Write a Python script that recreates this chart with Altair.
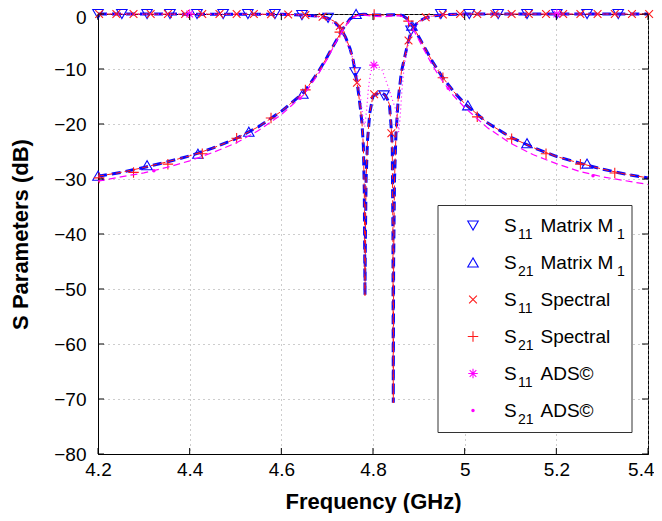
import altair as alt
import pandas as pd

FONT = "Liberation Sans"
BLUE = "#0808ff"
RED = "#ff1a1a"
MAG = "#ff00ff"

# ---------------- data ----------------
x_ticks = [4.2, 4.4, 4.6, 4.8, 5.0, 5.2, 5.4]
y_ticks = [-80, -70, -60, -50, -40, -30, -20, -10, 0]

# S21, coupling matrix M1 (blue)
m1_s21_freq = [4.20, 4.25, 4.30, 4.35, 4.40, 4.45, 4.50, 4.55, 4.60, 4.65,
               4.68, 4.70, 4.72, 4.735, 4.75, 4.765, 4.78, 4.80, 4.82, 4.84,
               4.855, 4.865, 4.875, 4.885, 4.895, 4.91, 4.93, 4.95, 4.975, 5.00,
               5.05, 5.10, 5.15, 5.20, 5.25, 5.30, 5.35, 5.40]
m1_s21_db = [-29.5, -28.8, -27.9, -26.9, -25.8, -24.4, -22.7, -20.5, -17.7, -14.2,
             -10.6, -7.8, -4.8, -2.6, -0.9, -0.15, -0.05, -0.15, -0.2, -0.15,
             -0.1, -0.3, -0.9, -2.0, -3.4, -5.7, -8.7, -11.3, -14.0, -16.3,
             -19.8, -22.4, -24.3, -25.9, -27.1, -28.2, -29.1, -29.8]
m1_s21_mk_freq = [4.20, 4.307, 4.418, 4.529, 4.647, 4.763, 4.885, 5.007, 5.136, 5.267]
m1_s21_mk_db = [-29.4, -27.5, -25.4, -21.4, -14.5, 0.0, -2.1, -16.6, -23.5, -27.2]

# S11, coupling matrix M1 (blue)
m1_s11_freq = [4.20, 4.60, 4.65, 4.68, 4.70, 4.715, 4.73, 4.74, 4.75, 4.757,
               4.761, 4.767, 4.773, 4.776, 4.779, 4.781, 4.7825, 4.7835, 4.785, 4.788,
               4.793, 4.80, 4.81, 4.818, 4.826, 4.832, 4.836, 4.840, 4.842, 4.8435,
               4.8443, 4.845, 4.847, 4.850, 4.855, 4.862, 4.870, 4.877, 4.883, 4.89,
               4.90, 4.915, 4.935, 4.96, 5.00, 5.40]
m1_s11_db = [0.0, -0.05, -0.2, -0.4, -0.7, -1.3, -2.7, -4.2, -6.3, -8.5,
             -10.6, -13.5, -17.5, -19.9, -24.0, -32.0, -51.2, -40.0, -30.0, -23.0,
             -18.0, -14.9, -14.5, -14.3, -14.7, -15.6, -16.5, -21.0, -24.0, -40.0,
             -70.7, -45.0, -30.0, -22.0, -15.5, -10.5, -7.5, -5.0, -3.2, -2.2,
             -1.3, -0.7, -0.3, -0.1, 0.0, 0.0]
m1_s11_mk_freq = [4.20, 4.252, 4.307, 4.357, 4.416, 4.473, 4.527, 4.586, 4.645, 4.702,
                  4.761, 4.824, 4.883, 4.948, 5.01, 5.073, 5.136, 5.201, 5.267, 5.335]
m1_s11_mk_db = [0.0, 0.0, 0.0, 0.0, 0.0, 0.0, 0.0, 0.0, -0.2, -0.7,
                -10.6, -14.8, -3.0, 0.0, 0.0, 0.0, 0.0, 0.0, 0.0, 0.0]

# Spectral method (red): lines coincide with the M1 curves
spec_s21_line_freq = m1_s21_freq
spec_s21_line_db = m1_s21_db
spec_s11_line_freq = m1_s11_freq
spec_s11_line_db = m1_s11_db
spec_s11_mk_freq = [4.2025, 4.24, 4.2775, 4.315, 4.3525, 4.39, 4.4275, 4.465, 4.5025, 4.54,
                    4.5775, 4.615, 4.6525, 4.69, 4.7275, 4.765, 4.8025, 4.84, 4.8775, 4.915,
                    4.9525, 4.99, 5.0275, 5.065, 5.1025, 5.14, 5.1775, 5.215, 5.2525, 5.29,
                    5.3275, 5.365, 5.4025]
spec_s11_mk_db = [0.0, 0.0, 0.0, 0.0, 0.0, 0.0, 0.0, 0.0, 0.0, 0.0,
                  -0.05, -0.1, -0.2, -0.5, -2.2, -12.5, -14.6, -21.7, -4.8, -0.6,
                  -0.1, 0.0, 0.0, 0.0, 0.0, 0.0, 0.0, 0.0, 0.0, 0.0,
                  0.0, 0.0, 0.0]
spec_s21_mk_freq = [4.2025, 4.2775, 4.3525, 4.4275, 4.5025, 4.5775, 4.6525, 4.7275,
                    4.8025, 4.8775, 4.9525, 5.0275, 5.1025, 5.1775, 5.2525, 5.3275]
spec_s21_mk_db = [-29.8, -28.8, -27.3, -25.4, -22.6, -18.9, -13.8, -3.3,
                  -0.1, -1.3, -11.6, -18.7, -22.7, -25.4, -27.3, -28.9]

# ADS simulation (magenta)
ads_s21_freq = m1_s21_freq
ads_s21_db = [-30.4, -29.6, -28.9, -27.9, -26.7, -25.2, -23.5, -21.2, -18.3, -14.6,
              -11.0, -8.2, -5.0, -2.8, -1.1, -0.3, -0.2, -0.4, -0.5, -0.4,
              -0.3, -0.5, -1.2, -2.4, -3.9, -6.3, -9.4, -12.0, -14.8, -17.0,
              -20.7, -23.5, -25.6, -27.2, -28.6, -29.6, -30.3, -31.0]
ads_s21_mk_freq = [4.322, 4.641, 4.964, 5.28]
ads_s21_mk_db = [-28.5, -15.3, -13.5, -29.4]

ads_s11_freq = [4.20, 4.60, 4.65, 4.70, 4.73, 4.75, 4.765, 4.772, 4.778, 4.782,
                4.786, 4.790, 4.795, 4.802, 4.81, 4.82, 4.83, 4.84, 4.85, 4.856,
                4.859, 4.863, 4.868, 4.875, 4.882, 4.89, 4.905, 4.93, 4.96, 5.00, 5.40]
ads_s11_db = [0.0, -0.05, -0.2, -0.8, -2.9, -6.6, -10.5, -14.5, -19.0, -20.5,
              -17.5, -13.5, -10.5, -9.3, -9.4, -10.2, -12.5, -15.0, -17.5, -21.5,
              -19.0, -14.0, -9.5, -6.2, -4.0, -2.5, -1.1, -0.3, -0.1, 0.0, 0.0]
ads_s11_mk_freq = [4.40, 4.802, 5.201]
ads_s11_mk_db = [0.0, -9.3, 0.0]

legend_subs = ["11", "21", "11", "21", "11", "21"]
legend_texts = ["Matrix M", "Matrix M", "Spectral", "Spectral", "ADS\u00a9", "ADS\u00a9"]
legend_tail = ["1", "1", "", "", "", ""]

# ---------------- chart ----------------
W, H = 550, 440
X_PATH = "M-1,-1L1,1M-1,1L1,-1"
PLUS_PATH = "M-1,0L1,0M0,-1L0,1"
STAR_PATH = "M-1,0L1,0M0,-1L0,1M-0.7,-0.7L0.7,0.7M-0.7,0.7L0.7,-0.7"

xs = alt.Scale(domain=[4.2, 5.4], nice=False, zero=False)
ys = alt.Scale(domain=[-80, 0], nice=False, zero=False)

common_axis = dict(grid=True, ticks=False, domain=True, domainColor="black", domainWidth=1,
                   labelFont=FONT, labelFontSize=19, labelColor="black",
                   titleFont=FONT, titleFontSize=22, titleFontWeight="bold", titleColor="black",
                   gridColor="#9a9a9a", gridDash=[1, 4], gridWidth=1, labelFlush=False)
xaxis = alt.Axis(values=x_ticks, format="~g", title="Frequency (GHz)",
                 labelPadding=6, titlePadding=12,
                 labelAlign={"expr": "datum.value >= 5.39 ? 'right' : 'center'"},
                 labelOffset={"expr": "datum.value >= 5.39 ? 6 : 0"},
                 **common_axis)
yaxis = alt.Axis(values=y_ticks, format="d", title="S Parameters (dB)",
                 labelPadding=12, titlePadding=21,
                 labelOffset={"expr": "datum.value >= 0 ? 3 : 0"},
                 **common_axis)


def X():
    return alt.X("f:Q", scale=xs, axis=xaxis)


def Y():
    return alt.Y("db:Q", scale=ys, axis=yaxis)


def frame(f, d):
    return pd.DataFrame({"f": f, "db": d})


def line(f, d, color, w, dash):
    return alt.Chart(frame(f, d)).mark_line(
        color=color, strokeWidth=w, strokeDash=dash, clip=False
    ).encode(x=X(), y=Y())


def pts(f, d, shape, color, size, filled=False):
    return alt.Chart(frame(f, d)).mark_point(
        shape=shape, color=color, size=size, filled=filled, opacity=1,
        strokeWidth=1.1, clip=False
    ).encode(x=X(), y=Y())


layers = [
    line(m1_s11_freq, m1_s11_db, BLUE, 3, [9, 5]),
    pts(m1_s11_mk_freq, m1_s11_mk_db, "triangle-down", BLUE, 110),
    line(m1_s21_freq, m1_s21_db, BLUE, 3, [9, 5]),
    pts(m1_s21_mk_freq, m1_s21_mk_db, "triangle-up", BLUE, 110),
    line(spec_s11_line_freq, spec_s11_line_db, RED, 1, [6, 3]),
    pts(spec_s11_mk_freq, spec_s11_mk_db, X_PATH, RED, 60),
    line(spec_s21_line_freq, spec_s21_line_db, RED, 1, [6, 3]),
    pts(spec_s21_mk_freq, spec_s21_mk_db, PLUS_PATH, RED, 110),
    line(ads_s11_freq, ads_s11_db, MAG, 1.2, [1, 3]),
    pts(ads_s11_mk_freq, ads_s11_mk_db, STAR_PATH, MAG, 90),
    line(ads_s21_freq, ads_s21_db, MAG, 1.2, [7, 4]),
    pts(ads_s21_mk_freq, ads_s21_mk_db, "circle", MAG, 12, filled=True),
]

# inward tick marks on all four sides
yt = pd.DataFrame({"db": y_ticks})
xt = pd.DataFrame({"f": x_ticks})
layers += [
    alt.Chart(yt).mark_rule(color="black").encode(y=Y(), x=alt.value(0), x2=alt.value(6)),
    alt.Chart(yt).mark_rule(color="black").encode(y=Y(), x=alt.value(W), x2=alt.value(W - 6)),
    alt.Chart(xt).mark_rule(color="black").encode(x=X(), y=alt.value(H), y2=alt.value(H - 6)),
    alt.Chart(xt).mark_rule(color="black").encode(x=X(), y=alt.value(0), y2=alt.value(6)),
]

# legend box
dummy = pd.DataFrame({"a": [0]})
layers.append(
    alt.Chart(dummy).mark_rect(fill="white", stroke="#333333", strokeWidth=1).encode(
        x=alt.value(340), x2=alt.value(534), y=alt.value(191.5), y2=alt.value(418.5))
)

row_y = [211.5, 248.5, 285.5, 322.5, 359.5, 396.5]
row_sym = [("triangle-down", BLUE, 110, False), ("triangle-up", BLUE, 110, False),
           (X_PATH, RED, 60, False), (PLUS_PATH, RED, 110, False),
           (STAR_PATH, MAG, 90, False), ("circle", MAG, 12, True)]


def txt(s, x, y, size):
    return alt.Chart(dummy).mark_text(
        text=s, align="left", baseline="alphabetic", font=FONT, fontSize=size, color="black"
    ).encode(x=alt.value(x), y=alt.value(y))


for i, cy in enumerate(row_y):
    shp, col, sz, fl = row_sym[i]
    layers.append(alt.Chart(dummy).mark_point(
        shape=shp, color=col, size=sz, filled=fl, opacity=1, strokeWidth=1.1
    ).encode(x=alt.value(375), y=alt.value(cy)))
    layers.append(txt("S", 406, cy + 6.7, 19))
    layers.append(txt(legend_subs[i], 420, cy + 13.2, 14))
    layers.append(txt(legend_texts[i], 442.5, cy + 6.7, 19))
    if legend_tail[i]:
        layers.append(txt(legend_tail[i], 519, cy + 13.2, 14))

chart = alt.layer(*layers).properties(
    width=W, height=H,
    padding={"left": 90, "top": 6, "right": 6, "bottom": 59},
    autosize=alt.AutoSizeParams(type="none"),
).configure_view(stroke="black", strokeWidth=1)

chart.save("out.html", embed_options={"renderer": "svg", "actions": False})
